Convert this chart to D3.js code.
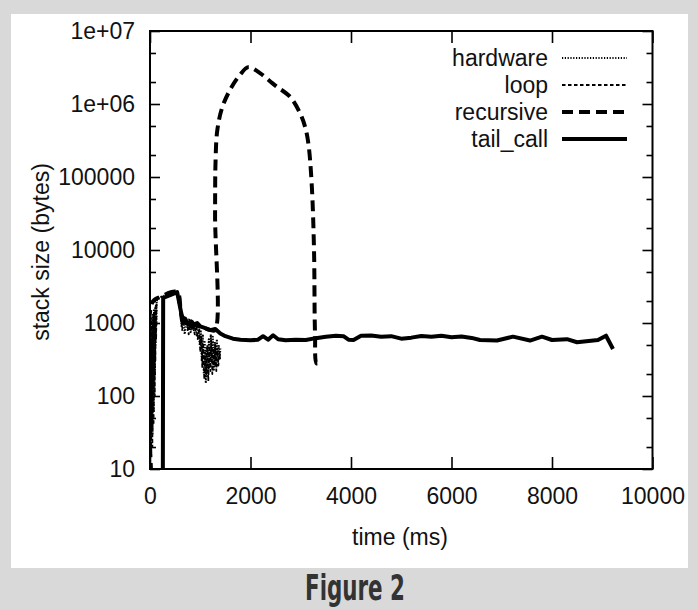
<!DOCTYPE html>
<html>
<head>
<meta charset="utf-8">
<script src="https://cdn.jsdelivr.net/npm/d3@7"></script>
<style>
  body { margin: 0; background: #d9d9d9; }
  svg { display: block; }
</style>
</head>
<body>
<div id="chart"></div>
<script>
// values: [time ms, stack bytes]
const hardware = [[0,10],[8,400],[14,20],[20,900],[26,40],[32,1200],[38,80],[44,700],[50,30],[56,1300],[62,150],[68,1000],[74,60],[80,1500],[86,300],[92,1200],[98,200],[104,1600],[110,500],[118,1800],[126,900],[134,2000],[150,2200],[350,2450],[530,2650],[600,1700],[630,900],[660,1300],[690,700],[720,1100],[750,800],[780,1150],[810,750],[840,1100],[870,800],[900,1000],[930,650],[960,950],[990,500],[1010,800],[1030,300],[1050,700],[1070,200],[1090,550],[1110,150],[1130,450],[1150,180],[1170,600],[1190,250],[1210,700],[1230,300],[1250,650],[1270,220],[1290,550],[1310,250],[1330,600],[1350,300],[1370,500],[1390,350],[1400,450]];
const loop = [[0,10],[5,200],[11,30],[17,600],[23,15],[29,1000],[35,50],[41,500],[47,20],[53,800],[59,100],[65,1300],[71,40],[77,900],[83,200],[89,1400],[95,100],[101,1100],[107,300],[115,1700],[122,600],[130,1900],[150,2200],[300,2350],[520,2600],[600,1500],[640,800],[680,1200],[710,900],[740,1000],[770,700],[800,1050],[830,800],[860,950],[890,700],[920,1000],[950,600],[980,850],[1000,400],[1020,650],[1040,250],[1060,500],[1080,170],[1100,400],[1120,200],[1140,500],[1160,160],[1180,450],[1200,220],[1220,550],[1240,200],[1260,450],[1280,260],[1300,500],[1320,220],[1340,450],[1360,260],[1380,400],[1400,300]];
const recursive = [[40,5],[45,1900],[200,2270],[540,2650],[610,1500],[660,1000],[760,950],[880,950],[1000,900],[1200,800],[1294,800],[1295,30000],[1305,170000],[1340,440000],[1440,910000],[1610,1640000],[1790,2500000],[1957,3200000],[2189,2650000],[2388,2050000],[2521,1730000],[2786,1260000],[2985,750000],[3085,490000],[3151,290000],[3217,82000],[3264,10000],[3284,720],[3317,280],[3370,285]];
const tail_call = [[255,5],[262,2200],[400,2400],[540,2650],[610,1500],[660,1000],[700,1150],[760,950],[820,1050],[880,950],[940,1000],[1000,900],[1100,850],[1200,800],[1300,830],[1400,720],[1500,660],[1650,610],[1800,590],[2000,580],[2150,590],[2250,660],[2350,590],[2450,680],[2550,600],[2700,580],[2900,590],[3100,585],[3300,620],[3500,650],[3700,670],[3850,660],[3950,590],[4050,585],[4200,670],[4400,675],[4600,650],[4800,660],[5000,610],[5200,630],[5400,665],[5600,650],[5800,670],[6000,640],[6200,655],[6400,625],[6567,585],[6905,575],[7224,650],[7562,575],[7801,650],[8000,585],[8299,600],[8498,545],[8915,585],[9075,670],[9214,440]];

const series_names = ["hardware", "loop", "recursive", "tail_call"];
const x_ticks = [0, 2000, 4000, 6000, 8000, 10000];
const y_ticks = [10, 100, 1000, 10000, 100000, 1000000, 10000000];
const y_minor = [20, 50, 200, 500, 2000, 5000, 20000, 50000, 200000, 500000, 2000000, 5000000];

const width = 698, height = 610;
const plot = { left: 150, right: 652.5, top: 31, bottom: 469 };

const styles = {
    hardware: { width: 2, dash: "1.2,1.6" },
    loop: { width: 1.8, dash: "3.5,2.5" },
    recursive: { width: 4, dash: "11,6" },
    tail_call: { width: 4, dash: null }
};

const svg = d3.select("#chart").append("svg")
    .attr("width", width)
    .attr("height", height);

// grey page + white panel
svg.append("rect").attr("width", width).attr("height", height).attr("fill", "#d9d9d9");
svg.append("rect").attr("x", 11).attr("y", 14).attr("width", 677).attr("height", 554).attr("fill", "#fff");

const x = d3.scaleLinear().domain([0, 10000]).range([plot.left, plot.right]);
const y = d3.scaleLog().domain([10, 1e7]).range([plot.bottom, plot.top]);

const font = "'Liberation Sans', Arial, sans-serif";

svg.append("clipPath").attr("id", "clip")
    .append("rect")
    .attr("x", plot.left).attr("y", plot.top)
    .attr("width", plot.right - plot.left).attr("height", plot.bottom - plot.top);

// data lines
const line = d3.line().x(d => x(d[0])).y(d => y(d[1]));
const smooth = d3.line().x(d => x(d[0])).y(d => y(d[1])).curve(d3.curveCatmullRom.alpha(0.5));
const all_data = { hardware: hardware, loop: loop, recursive: recursive, tail_call: tail_call };

const lines_g = svg.append("g").attr("clip-path", "url(#clip)");
series_names.forEach(name => {
    lines_g.append("path")
        .datum(all_data[name])
        .attr("fill", "none")
        .attr("stroke", "#000")
        .attr("stroke-width", styles[name].width)
        .attr("stroke-dasharray", styles[name].dash)
        .attr("stroke-linejoin", "round")
        .attr("d", name === "recursive" ? smooth : line);
});

// axes
function style_axis(g) {
    g.select(".domain").remove();
    g.selectAll("line").attr("stroke", "#000").attr("stroke-width", 1.6);
    g.selectAll("text").attr("font-family", font).attr("font-size", 23).attr("fill", "#111");
}

const y_format = v => v >= 1e6 ? "1e+0" + Math.round(Math.log10(v)) : d3.format("d")(v);

svg.append("g").attr("transform", `translate(${plot.left},0)`)
    .call(d3.axisLeft(y).tickValues(y_ticks).tickFormat(y_format).tickSize(-10).tickPadding(15))
    .call(style_axis);
svg.append("g").attr("transform", `translate(${plot.left},0)`)
    .call(d3.axisLeft(y).tickValues(y_minor).tickFormat("").tickSize(-6))
    .call(style_axis);
svg.append("g").attr("transform", `translate(${plot.right},0)`)
    .call(d3.axisRight(y).tickValues(y_ticks).tickFormat("").tickSize(-10))
    .call(style_axis);
svg.append("g").attr("transform", `translate(${plot.right},0)`)
    .call(d3.axisRight(y).tickValues(y_minor).tickFormat("").tickSize(-6))
    .call(style_axis);

svg.append("g").attr("transform", `translate(0,${plot.bottom})`)
    .call(d3.axisBottom(x).tickValues(x_ticks).tickFormat(d3.format("d")).tickSize(-12).tickPadding(19))
    .call(style_axis);
svg.append("g").attr("transform", `translate(0,${plot.top})`)
    .call(d3.axisTop(x).tickValues(x_ticks).tickFormat("").tickSize(-12))
    .call(style_axis);

// frame
svg.append("rect")
    .attr("x", plot.left).attr("y", plot.top)
    .attr("width", plot.right - plot.left).attr("height", plot.bottom - plot.top)
    .attr("fill", "none").attr("stroke", "#000").attr("stroke-width", 2);

// axis titles
svg.append("text")
    .attr("x", 400).attr("y", 545)
    .attr("text-anchor", "middle")
    .attr("font-family", font).attr("font-size", 23).attr("fill", "#111")
    .text("time (ms)");
svg.append("text")
    .attr("transform", "translate(49,252) rotate(-90)")
    .attr("text-anchor", "middle")
    .attr("font-family", font).attr("font-size", 23).attr("fill", "#111")
    .text("stack size (bytes)");

// legend
const legend = svg.append("g");
series_names.forEach((name, i) => {
    const ly = 58 + i * 27;
    legend.append("text")
        .attr("x", 548).attr("y", ly)
        .attr("dy", "0.35em")
        .attr("text-anchor", "end")
        .attr("font-family", font).attr("font-size", 23).attr("fill", "#111")
        .text(name);
    legend.append("line")
        .attr("x1", 562).attr("x2", 627)
        .attr("y1", ly).attr("y2", ly)
        .attr("stroke", "#000")
        .attr("stroke-width", styles[name].width)
        .attr("stroke-dasharray", styles[name].dash);
});

// caption
svg.append("text")
    .attr("x", 355).attr("y", 600)
    .attr("text-anchor", "middle")
    .attr("font-family", "'DejaVu Sans Condensed', 'DejaVu Sans', sans-serif")
    .attr("font-weight", "bold")
    .attr("font-size", 35)
    .attr("textLength", 100)
    .attr("lengthAdjust", "spacingAndGlyphs")
    .attr("fill", "#333")
    .text("Figure 2");
</script>
</body>
</html>
